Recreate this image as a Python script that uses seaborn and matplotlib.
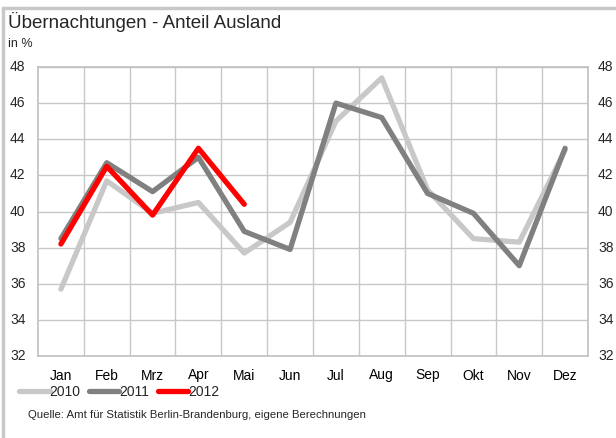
import matplotlib
matplotlib.use("Agg")
import matplotlib.pyplot as plt
import seaborn as sns
import pandas as pd
import numpy as np
from matplotlib.lines import Line2D

months = ["Jan", "Feb", "Mrz", "Apr", "Mai", "Jun", "Jul", "Aug", "Sep", "Okt", "Nov", "Dez"]
v2010 = [35.7, 41.7, 39.9, 40.5, 37.7, 39.4, 45.0, 47.4, 41.2, 38.5, 38.3, 43.4]
v2011 = [38.5, 42.7, 41.1, 43.0, 38.9, 37.9, 46.0, 45.2, 41.0, 39.9, 37.0, 43.5]
v2012 = [38.2, 42.5, 39.8, 43.5, 40.4]
yticks = [32, 34, 36, 38, 40, 42, 44, 46, 48]

rows = []
for year, vals in (("2010", v2010), ("2011", v2011), ("2012", v2012)):
    for i, v in enumerate(vals):
        rows.append({"Monat": i, "Jahr": year, "Anteil": v})
df = pd.DataFrame(rows)

sns.set_theme(style="white")
plt.rcParams["font.family"] = ["Liberation Sans", "DejaVu Sans"]

fig = plt.figure(figsize=(6.16, 4.38), dpi=100)
ax = fig.add_axes([38 / 616, 1 - 356 / 438, 550 / 616, 289 / 438])

palette = {"2010": "#c8c8c8", "2011": "#808080", "2012": "#ff0000"}
sns.lineplot(data=df, x="Monat", y="Anteil", hue="Jahr", palette=palette,
             linewidth=3.8, ax=ax, legend=False, sort=False)

ax.set_xlim(-0.5, 11.5)
ax.set_ylim(32, 48)
ax.set_xticks(range(12))
ax.set_xticklabels(months)
ax.set_xticks(np.arange(0.5, 11.5, 1), minor=True)
ax.set_yticks(yticks)
ax.grid(False)
ax.grid(True, which="minor", axis="x", color="#c8c8c8", linewidth=1.0)
ax.grid(True, which="major", axis="y", color="#c8c8c8", linewidth=1.0)
ax.set_axisbelow(True)
ax.set_xlabel("")
ax.set_ylabel("")
for s in ax.spines.values():
    s.set_color("#c0c0c0")
    s.set_linewidth(1.2)
ax.tick_params(axis="both", length=0, labelsize=10, colors="#000000")
ax.tick_params(axis="x", pad=9)
ax.yaxis.set_tick_params(labelleft=False)

# Value scale printed on both sides of the plot
for t in yticks:
    yp = ax.transData.transform((0, t))[1]
    yf = yp / fig.bbox.height
    fig.text(10 / 616, yf, str(t), fontsize=10, va="center", ha="left")
    fig.text(598 / 616, yf, str(t), fontsize=10, va="center", ha="left")

fig.text(8 / 616, 1 - 22 / 438, "Übernachtungen - Anteil Ausland", fontsize=13.5, va="center", ha="left")
fig.text(8 / 616, 1 - 44 / 438, "in %", fontsize=9, va="center", ha="left")

handles = [Line2D([0], [0], color=palette[y], linewidth=3.8) for y in ("2010", "2011", "2012")]
fig.legend(handles, ["2010", "2011", "2012"], loc="center left",
           bbox_to_anchor=(19 / 616, 1 - 392 / 438), ncol=3, frameon=False,
           fontsize=10, handlelength=2.2, handletextpad=0.0, columnspacing=0.6,
           borderaxespad=0, borderpad=0)

fig.text(28 / 616, 1 - 415 / 438,
         "Quelle: Amt für Statistik Berlin-Brandenburg, eigene Berechnungen",
         fontsize=8.2, va="center", ha="left")

# Frame along the top and left edges of the figure
fig.add_artist(Line2D([3 / 616, 3 / 616], [0, 1 - 8 / 438], transform=fig.transFigure,
                      color="#c8c8c8", linewidth=2.5))
fig.add_artist(Line2D([3 / 616, 1], [1 - 8 / 438, 1 - 8 / 438], transform=fig.transFigure,
                      color="#c8c8c8", linewidth=2.5))

fig.savefig("out.png", dpi=100)
